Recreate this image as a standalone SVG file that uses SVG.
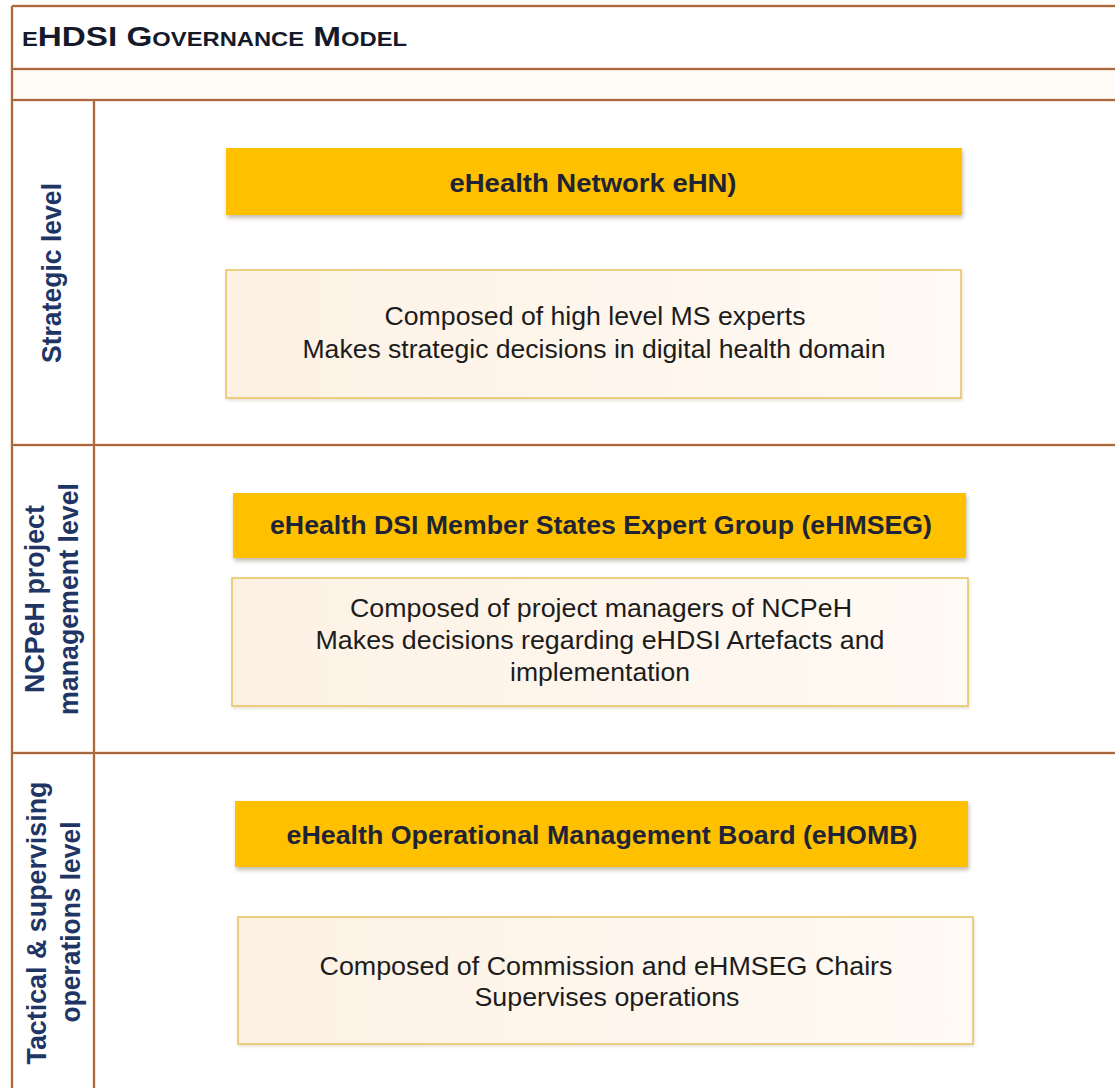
<svg xmlns="http://www.w3.org/2000/svg" width="1115" height="1088" viewBox="0 0 1115 1088">
<defs>
<filter id="sh" x="-5%" y="-20%" width="110%" height="150%">
<feDropShadow dx="1" dy="3" stdDeviation="2" flood-color="#7a6a50" flood-opacity="0.45"/>
</filter>
<filter id="sh2" x="-5%" y="-20%" width="110%" height="150%">
<feDropShadow dx="1" dy="2" stdDeviation="1.5" flood-color="#b0a080" flood-opacity="0.3"/>
</filter>
<linearGradient id="cream" x1="0" y1="0" x2="1" y2="0">
<stop offset="0" stop-color="#fdf1e4"/>
<stop offset="1" stop-color="#fffaf4"/>
</linearGradient>
</defs>
<style>
.halo{stroke:#f8e4d6;stroke-width:4;fill:none}
.ln{stroke:#a8693f;stroke-width:2;fill:none}
.hd{fill:#ffc000;filter:url(#sh)}
.ds{fill:url(#cream);stroke:#e8c25c;stroke-width:1.5;filter:url(#sh2)}
.ht{font-family:"Liberation Sans",Arial,sans-serif;font-weight:bold;font-size:25px;fill:#1e2435;text-anchor:middle}
.dt{font-family:"Liberation Sans",Arial,sans-serif;font-size:25px;fill:#1c1c1c;text-anchor:middle}
.lb{font-family:"Liberation Sans",Arial,sans-serif;font-weight:bold;font-size:27px;fill:#1f3566;text-anchor:middle}
.ti{font-family:"Liberation Sans",Arial,sans-serif;font-weight:bold;font-size:28px;fill:#141a2a;font-variant:small-caps}
</style>
<rect width="1115" height="1088" fill="#ffffff"/>
<rect x="12" y="69" width="1103" height="31" fill="#fffbf7"/>
<g id="frame">
<path class="halo" d="M12 6H1115M12 69H1115M12 100H1115M12 445H1115M12 753H1115M12 6V1088M94 100V1088"/>
<path class="ln" d="M12 6H1115M12 69H1115M12 100H1115M12 445H1115M12 753H1115M12 6V1088M94 100V1088"/>
</g>
<g id="title">
<text class="ti" x="22" y="46" textLength="385" lengthAdjust="spacingAndGlyphs">eHDSI Governance Model</text>
</g>
<g id="label-strategic">
<text class="lb" transform="translate(61,273) rotate(-90)" textLength="180" lengthAdjust="spacingAndGlyphs">Strategic level</text>
</g>
<g id="label-ncpeh">
<text class="lb" transform="translate(44,599) rotate(-90)" textLength="188" lengthAdjust="spacingAndGlyphs">NCPeH project</text>
<text class="lb" transform="translate(78,599) rotate(-90)" textLength="232" lengthAdjust="spacingAndGlyphs">management level</text>
</g>
<g id="label-tactical">
<text class="lb" transform="translate(46,923) rotate(-90)" textLength="283" lengthAdjust="spacingAndGlyphs">Tactical &amp; supervising</text>
<text class="lb" transform="translate(80,922) rotate(-90)" textLength="201" lengthAdjust="spacingAndGlyphs">operations level</text>
</g>
<g id="ehn">
<rect class="hd" x="226" y="148" width="736" height="67"/>
<text class="ht" x="593" y="192" textLength="287" lengthAdjust="spacingAndGlyphs">eHealth Network eHN)</text>
</g>
<g id="ehn-desc">
<rect class="ds" x="226" y="270" width="735" height="128"/>
<text class="dt" x="595" y="325" textLength="421" lengthAdjust="spacingAndGlyphs">Composed of high level MS experts</text>
<text class="dt" x="594" y="358" textLength="583" lengthAdjust="spacingAndGlyphs">Makes strategic decisions in digital health domain</text>
</g>
<g id="ehmseg">
<rect class="hd" x="233" y="493" width="733" height="65"/>
<text class="ht" x="601" y="534" textLength="662" lengthAdjust="spacingAndGlyphs">eHealth DSI Member States Expert Group (eHMSEG)</text>
</g>
<g id="ehmseg-desc">
<rect class="ds" x="232" y="578" width="736" height="128"/>
<text class="dt" x="601" y="617" textLength="502" lengthAdjust="spacingAndGlyphs">Composed of project managers of NCPeH</text>
<text class="dt" x="600" y="649" textLength="569" lengthAdjust="spacingAndGlyphs">Makes decisions regarding eHDSI Artefacts and</text>
<text class="dt" x="600" y="681" textLength="180" lengthAdjust="spacingAndGlyphs">implementation</text>
</g>
<g id="ehomb">
<rect class="hd" x="235" y="801" width="733" height="66"/>
<text class="ht" x="602" y="844" textLength="631" lengthAdjust="spacingAndGlyphs">eHealth Operational Management Board (eHOMB)</text>
</g>
<g id="ehomb-desc">
<rect class="ds" x="238" y="917" width="735" height="127"/>
<text class="dt" x="606" y="975" textLength="573" lengthAdjust="spacingAndGlyphs">Composed of Commission and eHMSEG Chairs</text>
<text class="dt" x="607" y="1006" textLength="265" lengthAdjust="spacingAndGlyphs">Supervises operations</text>
</g>
<g id="connectors"></g>
</svg>
